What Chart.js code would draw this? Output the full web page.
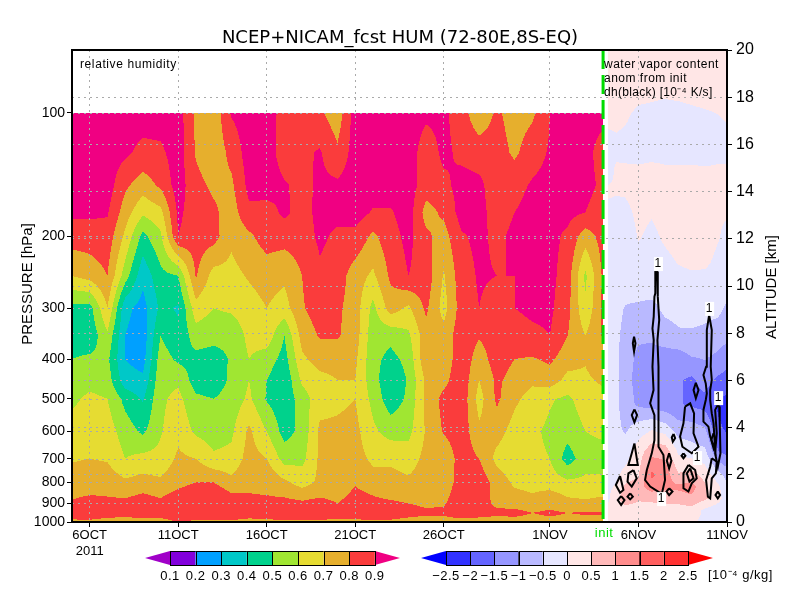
<!DOCTYPE html>
<html>
<head>
<meta charset="utf-8">
<script src="https://cdn.jsdelivr.net/npm/chart.js@4/dist/chart.umd.min.js"></script>
<style>body{margin:0;background:#fff}canvas{display:block}</style>
</head>
<body>
<canvas id="chart" width="800" height="600"></canvas>
<script>
// x axis is days since 5 Oct 2011
const DATE_TICKS = [1, 6, 11, 16, 21, 27, 32, 37];
const DATE_LABELS = [['6OCT', '2011'], '11OCT', '16OCT', '21OCT', '26OCT', '1NOV', '6NOV', '11NOV'];
const PRESSURE_TICKS = [100, 200, 300, 400, 500, 600, 700, 800, 900, 1000];
const INIT_DAY = 30;

const RH_EDGES = [0.1, 0.2, 0.3, 0.4, 0.5, 0.6, 0.7, 0.8, 0.9];
const RH_COLORS = ['#a000c8', '#8200dc', '#00a0ff', '#00c8c8', '#00d28c', '#a0e632', '#e6dc32', '#e6af2d', '#fa3c3c', '#f00082'];
const ANOM_EDGES = [-2.5, -2, -1.5, -1, -0.5, 0, 0.5, 1, 1.5, 2, 2.5];
const ANOM_LABELS = ['\u22122.5', '\u22122', '\u22121.5', '\u22121', '\u22120.5', '0', '0.5', '1', '1.5', '2', '2.5'];
const ANOM_COLORS = ['#0000ff', '#3232ff', '#6464ff', '#9696ff', '#b9b9ff', '#e6e6ff', '#ffe6e6', '#ffb9b9', '#ff8c8c', '#ff5f5f', '#ff3232', '#ff0000'];

// relative humidity, one line per day, top to bottom along RH_LEVELS
const RH_DAYS = [0, 1, 2, 3, 4, 5, 6, 7, 8, 9, 10, 11, 12, 13, 14, 15, 16, 17, 18, 19, 20, 21, 22, 23, 24, 25, 26, 27, 28, 29, 30];
const RH_LEVELS = [100, 125, 150, 175, 200, 250, 300, 350, 400, 450, 500, 600, 700, 800, 850, 900, 950, 1000];
const RH_BY_DAY = [
  [.95,.95,.95,.92,.85,.70,.47,.45,.50,.55,.58,.64,.69,.75,.78,.81,.85,.78],
  [.95,.95,.95,.92,.85,.74,.46,.43,.52,.57,.62,.66,.70,.76,.79,.84,.86,.78],
  [.95,.95,.95,.91,.86,.80,.70,.58,.52,.55,.60,.65,.69,.76,.79,.82,.85,.76],
  [.95,.92,.82,.75,.68,.55,.33,.30,.30,.34,.47,.55,.60,.72,.78,.82,.85,.74],
  [.95,.87,.75,.62,.47,.33,.26,.24,.26,.32,.39,.48,.63,.74,.80,.84,.86,.76],
  [.95,.88,.82,.67,.58,.47,.42,.50,.55,.57,.58,.59,.63,.72,.78,.82,.85,.76],
  [.95,.95,.95,.92,.90,.50,.39,.42,.48,.58,.63,.67,.72,.77,.82,.86,.88,.80],
  [.78,.79,.83,.85,.85,.81,.66,.55,.47,.45,.52,.58,.70,.80,.85,.88,.87,.78],
  [.73,.73,.78,.82,.84,.66,.60,.53,.46,.44,.50,.55,.62,.80,.87,.89,.88,.77],
  [.91,.83,.78,.75,.72,.67,.62,.52,.51,.52,.54,.58,.63,.73,.80,.87,.88,.78],
  [.95,.95,.93,.88,.78,.71,.66,.63,.60,.60,.62,.72,.74,.78,.80,.84,.86,.76],
  [.95,.95,.95,.86,.85,.74,.70,.66,.55,.50,.49,.60,.70,.78,.79,.84,.87,.77],
  [.86,.85,.91,.92,.84,.72,.66,.50,.46,.42,.43,.46,.56,.72,.77,.84,.87,.78],
  [.88,.88,.87,.86,.85,.80,.79,.74,.68,.62,.55,.53,.57,.66,.74,.82,.87,.78],
  [.82,.91,.92,.93,.92,.88,.85,.81,.74,.67,.66,.72,.72,.72,.77,.84,.88,.78],
  [.74,.82,.92,.93,.88,.85,.82,.81,.74,.70,.68,.72,.73,.74,.76,.80,.87,.76],
  [.95,.95,.95,.95,.87,.75,.75,.75,.72,.70,.70,.73,.74,.79,.82,.85,.87,.77],
  [.95,.95,.95,.89,.78,.68,.57,.54,.53,.54,.57,.62,.68,.74,.79,.83,.87,.78],
  [.95,.95,.95,.89,.86,.82,.75,.53,.47,.42,.44,.56,.68,.74,.76,.82,.86,.78],
  [.95,.95,.95,.95,.93,.90,.68,.58,.53,.51,.52,.57,.65,.72,.74,.80,.84,.76],
  [.92,.85,.85,.76,.82,.86,.82,.76,.78,.72,.73,.71,.73,.75,.75,.78,.82,.75],
  [.92,.92,.88,.82,.76,.69,.66,.74,.73,.77,.83,.81,.72,.75,.77,.79,.82,.76],
  [.85,.88,.93,.94,.89,.86,.85,.86,.87,.87,.87,.86,.85,.84,.85,.86,.86,.76],
  [.72,.86,.92,.93,.92,.91,.90,.81,.75,.70,.66,.72,.80,.86,.86,.84,.84,.76],
  [.82,.85,.85,.86,.88,.90,.86,.85,.85,.82,.82,.74,.67,.76,.76,.78,.82,.76],
  [.75,.78,.87,.90,.92,.90,.90,.86,.80,.76,.72,.66,.62,.68,.72,.76,.83,.76],
  [.78,.86,.91,.93,.93,.93,.92,.88,.79,.72,.66,.62,.62,.66,.70,.74,.80,.76],
  [.90,.91,.93,.93,.93,.93,.92,.90,.82,.75,.61,.58,.60,.65,.72,.76,.82,.77],
  [.93,.93,.93,.93,.88,.85,.83,.80,.74,.67,.58,.54,.45,.62,.68,.73,.80,.76],
  [.93,.93,.93,.90,.75,.58,.62,.70,.71,.68,.65,.60,.56,.62,.67,.72,.81,.77],
  [.93,.86,.88,.85,.84,.82,.82,.81,.78,.72,.66,.62,.56,.62,.68,.74,.81,.77]
];

// water vapor anomaly after init, one line per day column, top to bottom along ANOM_KM
const ANOM_DAYS = [30.25, 30.75, 31.25, 32, 32.75, 33.5, 34.25, 35, 35.75, 36.5, 37];
const ANOM_KM = [20, 18, 17, 16, 15, 14, 13, 12, 11, 10, 9, 8, 7, 6, 5, 4, 3, 2, 1.5, 1, .5, 0];
const ANOM_BY_DAY = [
  [.2,.2,.1,-.2,-.15,.05,-.1,-.2,-.2,-.25,-.25,-.25,-.25,-.25,-.25,-.25,-.2,-.15,-.1,-.1,.1,.2],
  [.2,.2,.15,-.15,.05,.03,-.15,-.25,-.25,-.3,-.3,-.35,-.4,-.4,-.4,-.35,-.25,-.1,.05,.3,.2,.1],
  [.2,.2,.05,-.2,.05,.05,-.15,-.25,-.25,-.3,-.55,-.7,-.8,-.8,-.75,-.6,-.25,.15,.6,.9,.2,.05],
  [.2,.1,-.2,-.3,.05,.2,.1,.02,-.2,-.3,-.6,-.9,-1.1,-1.2,-1.1,-.3,.25,.45,.8,.6,.2,.2],
  [.15,.05,-.2,-.3,.1,.15,.02,-.1,-.15,-.3,-.65,-.9,-1.15,-1.25,-1.2,-.1,.8,1.6,1.3,.6,.3,.1],
  [.2,.02,-.25,-.3,.05,.2,.15,.05,-.1,-.25,-.4,-.7,-1.2,-1.4,-1.35,-.3,.8,1.3,1.1,.7,.3,.1],
  [.2,.05,-.25,-.3,.05,.2,.2,.15,.02,-.2,-.35,-.55,-1.2,-1.45,-1.45,-.8,-.1,.55,1.1,.8,.2,.05],
  [.2,.1,-.2,-.3,.05,.15,.2,.2,.1,-.2,-.3,-.55,-1,-1.6,-1.6,-.8,-.3,.7,1.2,.9,.3,.05],
  [.2,.15,-.15,-.3,.02,.1,.15,.2,.08,-.2,-.35,-.6,-.95,-1.3,-1.7,-1,-.4,.3,.6,.6,-.1,-.1],
  [.2,.15,-.05,-.25,.05,.1,.05,.02,-.1,-.25,-.4,-.7,-1.1,-1.6,-2.1,-1.9,-1.5,-.3,.1,.2,-.3,-.2],
  [.15,.15,.02,-.25,.05,.1,.02,-.1,-.2,-.3,-.6,-.8,-1.3,-1.7,-2.2,-2.1,-1.7,-.7,-.4,-.3,-.4,-.2]
];

// black heating contours, closed loops of [day, km]
const DH_LOOPS = [
  [[33,10.61],[33.05,10.61],[33.09,9.55],[33.17,8.56],[33.07,7.71],[33.13,6.58],[33.13,5.59],[33.13,5.03],[33.13,3.19],[33.41,2.84],[33.5,1.78],[33.32,1.21],[33.13,1.28],[32.66,1.5],[32.37,1.78],[32.47,2.2],[32.75,2.91],[32.9,3.47],[32.9,4.53],[32.66,5.03],[32.85,5.59],[32.79,6.58],[32.86,7.71],[32.79,8.2],[32.86,8.7],[32.9,9.55],[32.95,9.69],[32.95,10.61],[33,10.61]],
  [[31.75,7.85],[31.83,7.57],[31.75,7.22],[31.68,7.57],[31.75,7.85]],
  [[35.99,8.77],[36.14,8.13],[36.08,6.58],[36.14,6.02],[36.05,5.59],[36.05,5.17],[36.14,4.6],[36.24,4.18],[36.33,3.05],[36.05,3.62],[35.95,4.04],[35.67,4.25],[35.67,4.75],[35.8,5.17],[35.86,5.45],[35.8,5.87],[35.67,6.23],[35.82,6.58],[35.86,8.13],[35.99,8.77]],
  [[36.48,4.96],[36.56,4.89],[36.59,4.18],[36.63,2.91],[36.48,2.34],[36.33,2.91],[36.42,3.76],[36.33,4.75],[36.48,4.96]],
  [[34.63,4.89],[34.92,5.03],[35.14,4.6],[35.11,3.76],[35.39,3.19],[35.01,2.91],[34.48,3.19],[34.35,3.62],[34.54,4.18],[34.63,4.89]],
  [[31.77,4.77],[31.92,4.53],[31.77,4.22],[31.62,4.53],[31.77,4.77]],
  [[35.24,5.9],[35.39,5.59],[35.24,5.24],[35.11,5.59],[35.24,5.9]],
  [[31.77,3.33],[31.96,2.42],[31.43,2.42],[31.62,2.91],[31.77,3.33]],
  [[31.72,2.2],[31.9,1.85],[31.62,1.5],[31.38,1.71],[31.43,2.06],[31.72,2.2]],
  [[30.96,1.95],[31.15,1.36],[30.96,1.24],[30.72,1.57],[30.96,1.95]],
  [[31.02,1.1],[31.21,.93],[31.02,.72],[30.83,.93],[31.02,1.1]],
  [[31.53,1.21],[31.68,1.07],[31.53,.96],[31.38,1.07],[31.53,1.21]],
  [[33.73,2.91],[33.86,2.6],[33.73,2.27],[33.6,2.6],[33.73,2.91]],
  [[33.73,1.43],[33.92,1.29],[33.73,1.14],[33.58,1.29],[33.73,1.43]],
  [[34.82,2.42],[35.2,2.2],[35.29,1.85],[35.01,1.64],[34.82,1.29],[34.54,1.43],[34.54,2.06],[34.82,2.42]],
  [[34.92,2.27],[35.11,1.85],[34.88,1.71],[34.73,2.06],[34.92,2.27]],
  [[33.98,3.73],[34.07,3.55],[33.94,3.4],[33.88,3.59],[33.98,3.73]],
  [[34.54,2.91],[34.65,2.81],[34.54,2.7],[34.43,2.81],[34.54,2.91]],
  [[36.14,2.7],[36.42,2.56],[36.37,2.06],[36.14,1.85],[36.05,1],[35.92,1.07],[35.82,1.78],[36.05,2.34],[36.14,2.7]],
  [[36.48,1.29],[36.61,1.14],[36.48,1],[36.35,1.14],[36.48,1.29]],
  [[36.24,3.76],[36.37,3.47],[36.24,3.12],[36.11,3.47],[36.24,3.76]]
];
const DH_LABEL_DAYS = [33.1, 35.99, 36.5, 33.28, 35.31];
const DH_LABEL_KM = [10.93, 9.03, 5.25, 0.97, 2.71];

const TEXT_FONT = '"Liberation Sans", sans-serif';

function bandColor(value, edges, colors) {
  const i = edges.findIndex(edge => value < edge);
  return colors[i < 0 ? colors.length - 1 : i];
}

// filled contours: each pixel looks up the grid through the chart scales
function drawField(ctx, byCol, colPx, rowPx, edges, colors) {
  const left = Math.round(colPx[0]);
  const right = Math.round(colPx[colPx.length - 1]);
  const top = Math.round(rowPx[0]);
  const bottom = Math.round(rowPx[rowPx.length - 1]);
  let r = 0;
  for (let py = top; py < bottom; py++) {
    const y = py + 0.5;
    while (r < rowPx.length - 2 && y > rowPx[r + 1]) r++;
    const fy = (y - rowPx[r]) / (rowPx[r + 1] - rowPx[r]);
    let c = 0;
    let runStart = left;
    let runColor = null;
    for (let px = left; px < right; px++) {
      const x = px + 0.5;
      while (c < colPx.length - 2 && x > colPx[c + 1]) c++;
      const fx = (x - colPx[c]) / (colPx[c + 1] - colPx[c]);
      const v = (byCol[c][r] * (1 - fy) + byCol[c][r + 1] * fy) * (1 - fx)
        + (byCol[c + 1][r] * (1 - fy) + byCol[c + 1][r + 1] * fy) * fx;
      const color = bandColor(v, edges, colors);
      if (color !== runColor) {
        if (runColor) {
          ctx.fillStyle = runColor;
          ctx.fillRect(runStart, py, px - runStart, 1);
        }
        runColor = color;
        runStart = px;
      }
    }
    ctx.fillStyle = runColor;
    ctx.fillRect(runStart, py, right - runStart, 1);
  }
}

const fieldPlugin = {
  id: 'fields',
  beforeDraw(chart) {
    const { ctx, scales } = chart;
    const { x, yP, yZ } = scales;
    ctx.save();
    drawField(ctx, RH_BY_DAY, RH_DAYS.map(d => x.getPixelForValue(d)), RH_LEVELS.map(p => yP.getPixelForValue(p)), RH_EDGES, RH_COLORS);
    drawField(ctx, ANOM_BY_DAY, ANOM_DAYS.map(d => x.getPixelForValue(d)), ANOM_KM.map(z => yZ.getPixelForValue(z)), ANOM_EDGES, ANOM_COLORS);
    // pressure grid only runs over the humidity panel
    ctx.strokeStyle = '#aaaaaa';
    ctx.setLineDash([2, 4]);
    ctx.lineWidth = 1;
    PRESSURE_TICKS.slice(0, -1).forEach(p => {
      const y = Math.round(yP.getPixelForValue(p)) + 0.5;
      ctx.beginPath();
      ctx.moveTo(chart.chartArea.left, y);
      ctx.lineTo(x.getPixelForValue(INIT_DAY), y);
      ctx.stroke();
    });
    ctx.restore();
  }
};

function spacedText(ctx, text, x, y, font, spacing, align) {
  ctx.font = font;
  ctx.letterSpacing = spacing + 'px';
  ctx.textAlign = align || 'left';
  ctx.fillText(text, x, y);
  ctx.letterSpacing = '0px';
}

function drawColorbar(ctx, colors, labels, tipLeft, firstEdge, step, tipRight) {
  const top = 551;
  const bottom = 565;
  const mid = (top + bottom) / 2;
  const boxes = colors.length - 2;
  const lastEdge = firstEdge + boxes * step;
  ctx.fillStyle = colors[0];
  ctx.beginPath();
  ctx.moveTo(firstEdge, top);
  ctx.lineTo(tipLeft, mid);
  ctx.lineTo(firstEdge, bottom);
  ctx.fill();
  ctx.fillStyle = colors[colors.length - 1];
  ctx.beginPath();
  ctx.moveTo(lastEdge, top);
  ctx.lineTo(tipRight, mid);
  ctx.lineTo(lastEdge, bottom);
  ctx.fill();
  ctx.strokeStyle = '#000';
  ctx.lineWidth = 1;
  for (let i = 0; i < boxes; i++) {
    ctx.fillStyle = colors[i + 1];
    ctx.fillRect(firstEdge + i * step, top, step, bottom - top);
    ctx.strokeRect(Math.round(firstEdge + i * step) + 0.5, top + 0.5, Math.round(step), bottom - top);
  }
  ctx.fillStyle = '#000';
  ctx.textBaseline = 'middle';
  labels.forEach((label, i) => {
    spacedText(ctx, label, firstEdge + i * step, 576, '13px ' + TEXT_FONT, 0.5, 'center');
  });
}

const textPlugin = {
  id: 'texts',
  afterDraw(chart) {
    const { ctx, chartArea, scales } = chart;
    ctx.save();
    // frame
    ctx.strokeStyle = '#000';
    ctx.lineWidth = 2;
    ctx.strokeRect(chartArea.left, chartArea.top, chartArea.right - chartArea.left, chartArea.bottom - chartArea.top);

    // contour labels sit in white boxes
    ctx.textBaseline = 'middle';
    DH_LABEL_DAYS.forEach((d, i) => {
      const x = scales.x.getPixelForValue(d);
      const y = scales.yZ.getPixelForValue(DH_LABEL_KM[i]);
      ctx.fillStyle = '#fff';
      ctx.fillRect(x - 4, y - 7, 9, 14);
      ctx.fillStyle = '#000';
      spacedText(ctx, '1', x, y, '12px ' + TEXT_FONT, 0, 'center');
    });

    ctx.fillStyle = '#000';
    const noteFont = '12px ' + TEXT_FONT;
    spacedText(ctx, 'relative humidity', 80, 65, noteFont, 0.6);
    spacedText(ctx, 'water vapor content', 604, 65, noteFont, 0.5);
    spacedText(ctx, 'anom from init', 604, 79, noteFont, 0.5);
    spacedText(ctx, 'dh(black) [10\u207B\u2074 K/s]', 604, 93, noteFont, 0.3);

    ctx.save();
    ctx.translate(28, 284);
    ctx.rotate(-Math.PI / 2);
    spacedText(ctx, 'PRESSURE [hPa]', 0, 0, '15px ' + TEXT_FONT, 0, 'center');
    ctx.restore();
    ctx.save();
    ctx.translate(772, 287);
    ctx.rotate(-Math.PI / 2);
    spacedText(ctx, 'ALTITUDE [km]', 0, 0, '15px ' + TEXT_FONT, 0, 'center');
    ctx.restore();

    ctx.fillStyle = '#00dc00';
    spacedText(ctx, 'init', scales.x.getPixelForValue(INIT_DAY) + 1, 533, '13px ' + TEXT_FONT, 0.5, 'center');

    drawColorbar(ctx, RH_COLORS, RH_EDGES.map(String), 145, 170, 25.6, 400);
    drawColorbar(ctx, ANOM_COLORS, ANOM_LABELS, 421, 446, 24.2, 713);
    ctx.fillStyle = '#000';
    spacedText(ctx, '[10\u207B\u2074 g/kg]', 708, 575, '13px ' + TEXT_FONT, 0.5);
    ctx.restore();
  }
};

const datasets = DH_LOOPS.map(loop => ({
  data: loop.map(([x, y]) => ({ x, y })),
  yAxisID: 'yZ',
  showLine: true,
  borderColor: '#000',
  borderWidth: 2,
  pointRadius: 0,
  tension: 0
}));
datasets.push({
  data: [{ x: INIT_DAY, y: 20 }, { x: INIT_DAY, y: 0 }],
  yAxisID: 'yZ',
  showLine: true,
  borderColor: '#00dc00',
  borderWidth: 3,
  borderDash: [19, 6],
  pointRadius: 0
});

const dottedGrid = { color: '#aaaaaa', tickColor: '#000', tickLength: 5, tickBorderDash: [], lineWidth: 1 };

new Chart(document.getElementById('chart'), {
  type: 'scatter',
  data: { datasets },
  options: {
    responsive: false,
    animation: false,
    layout: { autoPadding: false, padding: 0 },
    plugins: {
      legend: { display: false },
      tooltip: { enabled: false },
      title: {
        display: true,
        text: 'NCEP+NICAM_fcst HUM (72-80E,8S-EQ)',
        color: '#000',
        font: { family: 'DejaVu Sans', size: 18, weight: 'normal', lineHeight: 1.2 },
        padding: { top: 28, bottom: 0.4 }
      }
    },
    scales: {
      x: {
        type: 'linear',
        min: 0,
        max: 37,
        grid: dottedGrid,
        border: { color: '#000', width: 2, dash: [2, 4] },
        ticks: {
          color: '#000',
          font: { family: 'Liberation Sans', size: 13 },
          padding: 1,
          maxRotation: 0,
          autoSkip: false,
          callback: v => DATE_LABELS[DATE_TICKS.indexOf(v)]
        },
        afterBuildTicks: axis => { axis.ticks = DATE_TICKS.map(value => ({ value })); },
        afterFit: axis => { axis.height = 78; }
      },
      yP: {
        type: 'logarithmic',
        position: 'left',
        reverse: true,
        min: 70.15,
        max: 1000,
        grid: { drawOnChartArea: false, tickColor: '#000', tickLength: 5 },
        border: { color: '#000', width: 2 },
        ticks: { color: '#000', font: { family: 'Liberation Sans', size: 14 }, padding: 2, autoSkip: false, callback: v => String(v) },
        afterBuildTicks: axis => { axis.ticks = PRESSURE_TICKS.map(value => ({ value })); },
        afterFit: axis => { axis.width = 72; }
      },
      yZ: {
        type: 'linear',
        position: 'right',
        min: 0,
        max: 20,
        grid: dottedGrid,
        border: { color: '#000', width: 2, dash: [2, 4] },
        ticks: { color: '#000', font: { family: 'Liberation Sans', size: 16 }, padding: 4, stepSize: 2 },
        afterFit: axis => { axis.width = 73; }
      }
    }
  },
  plugins: [fieldPlugin, textPlugin]
});
</script>
</body>
</html>
